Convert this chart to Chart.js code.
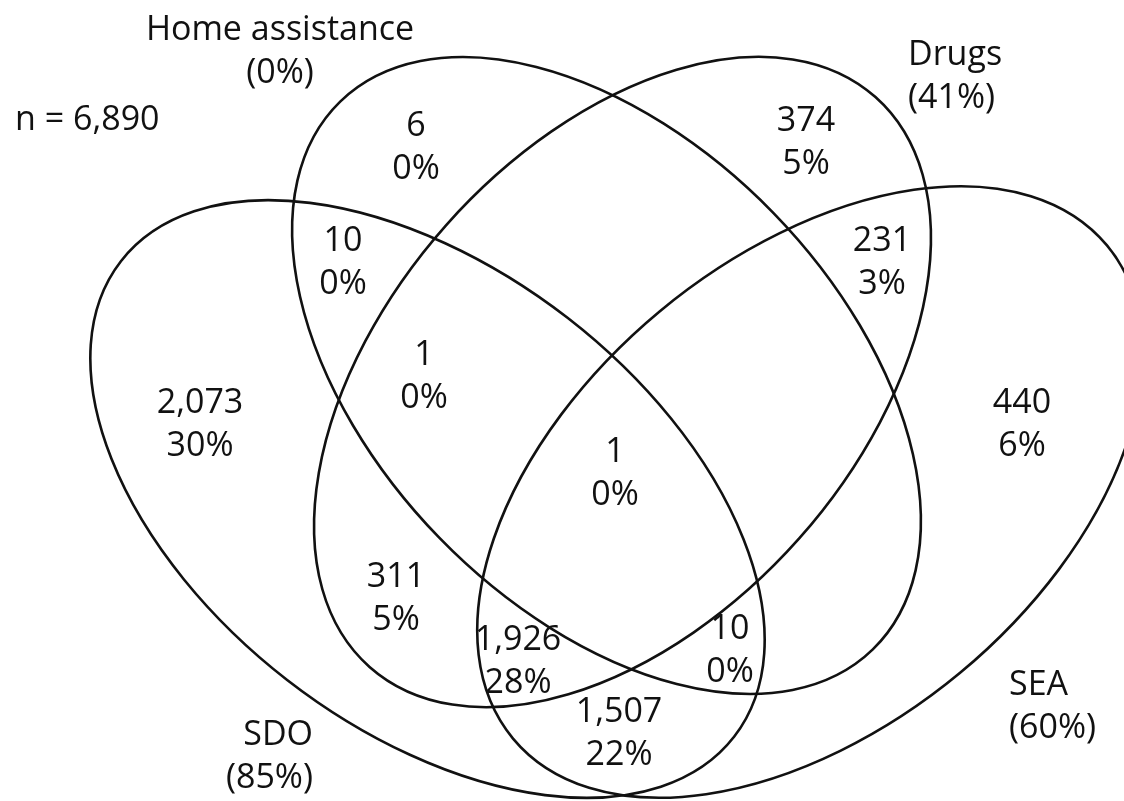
<!DOCTYPE html>
<html>
<head>
<meta charset="utf-8">
<script src="https://cdn.jsdelivr.net/npm/chart.js@4"></script>
<style>
  html, body { margin: 0; padding: 0; background: #fff; }
  #wrap { width: 1124px; height: 801px; position: relative; }
</style>
</head>
<body>
<div id="wrap"><canvas id="venn"></canvas></div>
<script>
// data
const totalN = 6890;
const setNames = ["Home assistance", "Drugs", "SDO", "SEA"];
const setPercents = [0, 41, 85, 60];
const regionCounts = [6, 374, 10, 231, 1, 2073, 440, 1, 311, 1926, 10, 1507];
const regionPercents = [0, 5, 0, 3, 0, 30, 6, 0, 5, 28, 0, 22];

// layout (pixel space of the 1124x801 drawing)
const regionPos = [
  [416, 148], [806, 143], [343, 263], [882, 263], [424, 377], [200, 425],
  [1022, 425], [615, 474], [396, 599], [518, 662], [730, 651], [619, 734]
];
const setLabelPos = [
  { x: 280, y: 30, align: "center" },
  { x: 908, y: 55, align: "left" },
  { x: 313, y: 735, align: "right" },
  { x: 1009, y: 685, align: "left" }
];
// ellipse outlines: centre, semi axes, rotation (deg)
const ellipses = [
  { cx: 606.5, cy: 375.5, a: 382, b: 233, rot: 45.8 },
  { cx: 622.5, cy: 382, a: 381, b: 236, rot: -48.4 },
  { cx: 427.5, cy: 499, a: 388, b: 229, rot: 37.8 },
  { cx: 810, cy: 492, a: 386, b: 235, rot: -39.7 }
];

const FONT = "34px 'Open Sans', 'Noto Sans', sans-serif";
const LINE = 43;
const fmt = v => v.toLocaleString("en-US");

const vennPlugin = {
  id: "venn",
  beforeDatasetsDraw(chart) {
    const { ctx, scales: { x, y } } = chart;
    ctx.save();
    ctx.strokeStyle = "#111";
    ctx.lineWidth = 2.6;
    ellipses.forEach(e => {
      const px = x.getPixelForValue(e.cx);
      const py = y.getPixelForValue(e.cy);
      const rx = x.getPixelForValue(e.cx + e.a) - px;
      const ry = y.getPixelForValue(e.cy + e.b) - py;
      ctx.beginPath();
      ctx.ellipse(px, py, Math.abs(rx), Math.abs(ry), e.rot * Math.PI / 180, 0, Math.PI * 2);
      ctx.stroke();
    });
    ctx.restore();
  },
  afterDatasetsDraw(chart) {
    const { ctx, scales: { x, y } } = chart;
    ctx.save();
    ctx.fillStyle = "#111";
    ctx.font = FONT;
    ctx.textBaseline = "middle";

    // region numbers from the dataset points
    const meta = chart.getDatasetMeta(0);
    ctx.textAlign = "center";
    meta.data.forEach((pt, i) => {
      ctx.fillText(fmt(regionCounts[i]), pt.x, pt.y - LINE / 2);
      ctx.fillText(regionPercents[i] + "%", pt.x, pt.y + LINE / 2);
    });

    // set names
    setNames.forEach((name, i) => {
      const p = setLabelPos[i];
      const px = x.getPixelForValue(p.x);
      const py = y.getPixelForValue(p.y);
      ctx.textAlign = p.align;
      ctx.fillText(name, px, py);
      ctx.fillText("(" + setPercents[i] + "%)", px, py + LINE);
    });

    ctx.textAlign = "left";
    ctx.fillText("n = " + fmt(totalN), x.getPixelForValue(15), y.getPixelForValue(120));
    ctx.restore();
  }
};

new Chart(document.getElementById("venn"), {
  type: "scatter",
  data: {
    datasets: [{
      label: "regions",
      data: regionPos.map(p => ({ x: p[0], y: p[1] })),
      pointRadius: 0,
      pointHoverRadius: 0
    }]
  },
  options: {
    responsive: true,
    maintainAspectRatio: false,
    animation: false,
    layout: { padding: 0 },
    plugins: { legend: { display: false }, tooltip: { enabled: false } },
    scales: {
      x: { type: "linear", min: 0, max: 1124, display: false },
      y: { type: "linear", min: 0, max: 801, reverse: true, display: false }
    }
  },
  plugins: [vennPlugin]
});
</script>
</body>
</html>
